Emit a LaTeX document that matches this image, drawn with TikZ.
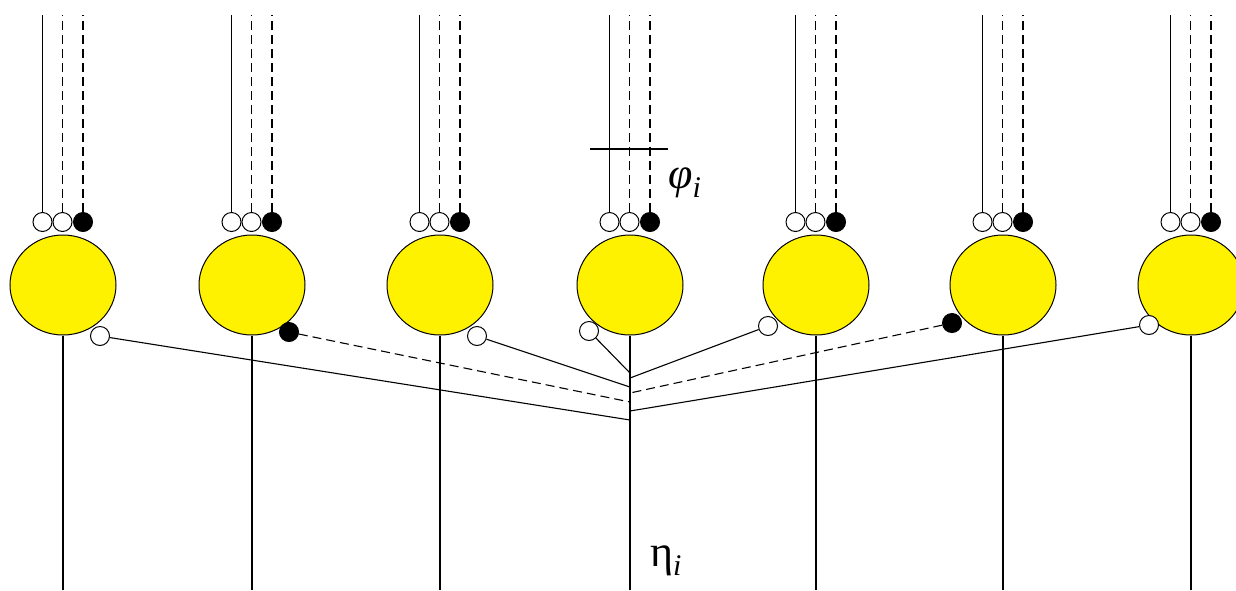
\documentclass[tikz,border=0pt]{standalone}
\usepackage{fontspec}
\newfontfamily\grfont{Liberation Serif}
\usetikzlibrary{shapes.geometric}
\newcommand\lblsize{\fontsize{44}{50}\selectfont\grfont}
\newcommand\subi{\raisebox{-0.22em}{\fontsize{30}{34}\selectfont\itshape i}}
\tikzset{
  big/.style={ellipse, draw, fill=yellow, minimum width=106pt, minimum height=100pt, inner sep=0pt, line width=1pt},
  ws/.style={circle, draw, fill=white, minimum size=19pt, inner sep=0pt, line width=1pt},
  bs/.style={circle, draw, fill=black, minimum size=19pt, inner sep=0pt, line width=1pt},
  ln/.style={line width=1.1pt},
  dl/.style={line width=1.1pt, dash pattern=on 9pt off 5pt},
  lbl/.style={inner sep=0pt, font=\lblsize}
}
\begin{document}
\begin{tikzpicture}[x=1pt,y=-1pt]
\useasboundingbox[fill=white] (0,0) rectangle (1236,590);
% big circles, top contacts, vertical lines
\foreach \i/\cx in {1/63,2/252,3/440,4/630,5/816,6/1003,7/1191}{
  \node[big] (b\i) at (\cx,285) {};
  \node[ws] (p\i) at (\cx-20.5,222) {};
  \node[ws] (q\i) at (\cx-0.5,222) {};
  \node[bs] (r\i) at (\cx+20,222) {};
  \coordinate (pt\i) at (\cx-20.5,15);
  \coordinate (qt\i) at (\cx-0.5,15);
  \coordinate (rt\i) at (\cx+20,15);
  \coordinate (bt\i) at (\cx,590);
  \draw[ln] (p\i) -- (pt\i);
  \draw[dl] (q\i) -- (qt\i);
  \draw[dl] (r\i) -- (rt\i);
  \draw[ln] (b\i) -- (bt\i);
}
% lower contacts
\node[ws] (s1) at (100,336) {};
\node[bs] (s2) at (289,332) {};
\node[ws] (s3) at (477,336) {};
\node[ws] (s4) at (589,331) {};
\node[ws] (s5) at (768,326) {};
\node[bs] (s6) at (952,323) {};
\node[ws] (s7) at (1149,325) {};
% junctions on the central line
\coordinate (j1) at (630,420);
\coordinate (j2) at (630,402);
\coordinate (j3) at (630,387);
\coordinate (j4) at (630,373);
\coordinate (j5) at (630,378);
\coordinate (j6) at (630,393);
\coordinate (j7) at (630,411);
\draw[ln] (s1) -- (j1);
\draw[dl] (s2) -- (j2);
\draw[ln] (s3) -- (j3);
\draw[ln] (s4) -- (j4);
\draw[ln] (s5) -- (j5);
\draw[dl] (s6) -- (j6);
\draw[ln] (s7) -- (j7);
% phi marker
\coordinate (tl) at (590,149);
\coordinate (tr) at (668,149);
\draw[ln] (tl) -- (tr);
\node[lbl, anchor=base west] (phi) at (668,188) {\itshape φ\subi};
\node[lbl, anchor=base west] (eta) at (650,566) {η\subi};
\end{tikzpicture}
\end{document}
